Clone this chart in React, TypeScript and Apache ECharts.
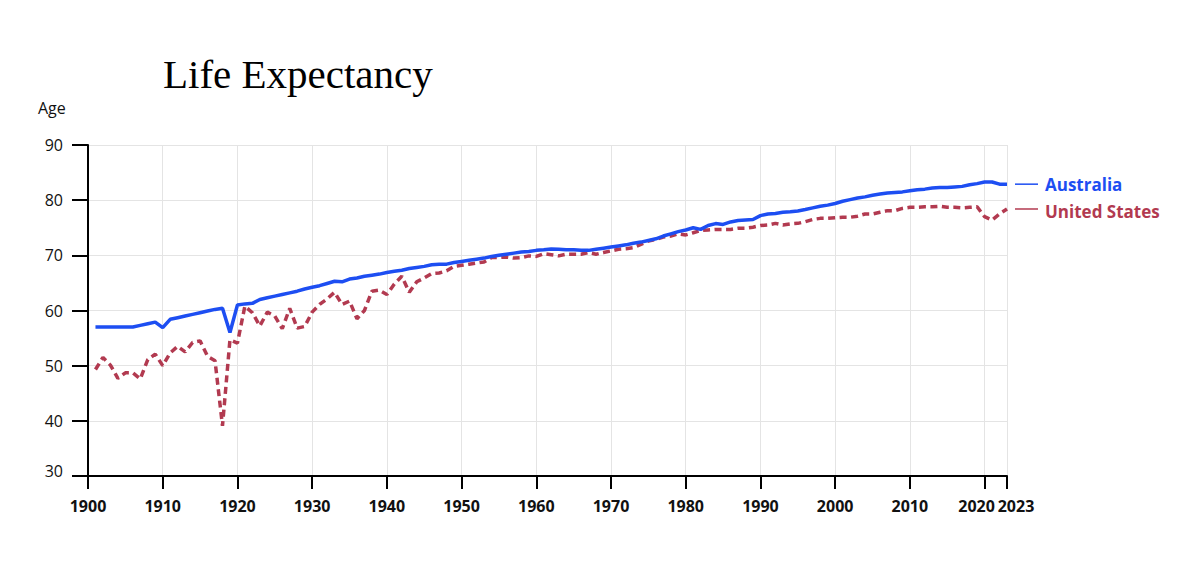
import React, { useEffect, useRef } from "react";
import * as echarts from "echarts";

// Period life expectancy at birth, one value per year starting in FIRST_YEAR
const FIRST_YEAR = 1901;

const australia = [
  57.0, 57.0, 57.0, 57.0, 57.0, 57.0, 57.3, 57.6, 57.9, 56.9,
  58.4, 58.7, 59.0, 59.3, 59.6, 59.9, 60.2, 60.4, 56.0, 61.0,
  61.2, 61.3, 62.0, 62.3, 62.6, 62.9, 63.2, 63.5, 63.9, 64.2,
  64.5, 64.9, 65.3, 65.2, 65.7, 65.9, 66.2, 66.4, 66.6, 66.9,
  67.1, 67.3, 67.6, 67.8, 68.0, 68.3, 68.4, 68.4, 68.7, 68.9,
  69.1, 69.3, 69.5, 69.8, 70.0, 70.2, 70.4, 70.6, 70.7, 70.9,
  71.0, 71.15, 71.1, 71.0, 71.0, 70.9, 70.9, 71.1, 71.3, 71.5,
  71.7, 71.9, 72.2, 72.4, 72.7, 73.0, 73.5, 73.9, 74.3, 74.6,
  75.0, 74.7, 75.4, 75.75, 75.6, 76.05, 76.3, 76.4, 76.5, 77.2,
  77.5, 77.6, 77.8, 77.9, 78.05, 78.3, 78.6, 78.9, 79.1, 79.4,
  79.8, 80.1, 80.4, 80.6, 80.9, 81.1, 81.3, 81.4, 81.5, 81.7,
  81.9, 82.0, 82.2, 82.3, 82.3, 82.4, 82.5, 82.8, 83.0, 83.3,
  83.3, 82.9, 82.9,
];

const unitedStates = [
  49.3, 51.5, 50.1, 47.7, 48.7, 48.7, 47.6, 51.1, 52.1, 50.0,
  52.3, 53.5, 52.5, 54.2, 54.5, 51.7, 50.9, 39.1, 54.7, 54.1,
  60.8, 59.6, 57.2, 59.7, 59.0, 56.7, 60.4, 56.8, 57.1, 59.7,
  61.1, 62.1, 63.3, 61.1, 61.7, 58.5, 60.0, 63.5, 63.7, 62.9,
  64.8, 66.2, 63.3, 65.2, 65.9, 66.7, 66.8, 67.2, 68.0, 68.2,
  68.4, 68.6, 68.8, 69.6, 69.6, 69.7, 69.5, 69.6, 69.9, 69.8,
  70.3, 70.1, 69.9, 70.2, 70.2, 70.2, 70.5, 70.2, 70.5, 70.8,
  71.1, 71.2, 71.4, 72.0, 72.6, 72.9, 73.3, 73.5, 73.9, 73.7,
  74.1, 74.5, 74.6, 74.7, 74.7, 74.7, 74.9, 74.9, 75.1, 75.4,
  75.5, 75.8, 75.5, 75.7, 75.8, 76.1, 76.5, 76.7, 76.7, 76.8,
  76.9, 76.9, 77.1, 77.5, 77.5, 77.8, 78.1, 78.1, 78.5, 78.7,
  78.7, 78.8, 78.8, 78.9, 78.7, 78.7, 78.6, 78.7, 78.8, 77.0,
  76.4, 77.5, 78.4,
];

const seriesNames = ["Australia", "United States"];
const seriesColors = ["#1d4ef2", "#b23a50"];

const X_MIN = 1900;
const X_MAX = 2023;
const Y_MIN = 30;
const Y_MAX = 90;

const SANS = "'Open Sans', 'Noto Sans', sans-serif";

const toPairs = (values: number[]) =>
  values.map((v, i) => [FIRST_YEAR + i, v]);

export default function App() {
  const ref = useRef<HTMLDivElement>(null);

  useEffect(() => {
    if (!ref.current) return;
    const chart = echarts.init(ref.current, null, { renderer: "svg" });

    const xFont = { fontFamily: SANS, fontSize: 16, fontWeight: "bold", color: "#111" };
    const xRich = {
      c: { ...xFont },
      l: { ...xFont, padding: [0, 16, 0, 0] },
      r: { ...xFont, padding: [0, 0, 0, 18] },
    };
    const yFont = { fontFamily: SANS, fontSize: 16, color: "#111" };
    const yRich = {
      c: { ...yFont },
      b: { ...yFont, padding: [0, 0, 10, 0] },
    };

    chart.setOption({
      animation: false,
      backgroundColor: "#fff",
      title: {
        text: "Life Expectancy",
        left: 158,
        top: 48,
        textStyle: {
          fontFamily: "'Liberation Serif', 'Times New Roman', serif",
          fontSize: 41,
          fontWeight: "normal",
          color: "#000",
        },
      },
      grid: { left: 88, right: 173, top: 145, bottom: 106 },
      xAxis: {
        type: "value",
        min: X_MIN,
        max: X_MAX,
        interval: 10,
        axisLine: { lineStyle: { color: "#000", width: 2 } },
        axisTick: { length: 13, lineStyle: { color: "#000", width: 2 } },
        splitLine: { show: true, lineStyle: { color: "#e4e4e4", width: 1 } },
        axisLabel: {
          margin: 22,
          formatter: (v: number) =>
            v === 2020 ? `{l|${v}}` : v === 2023 ? `{r|${v}}` : `{c|${v}}`,
          rich: xRich,
        },
      },
      yAxis: {
        type: "value",
        min: Y_MIN,
        max: Y_MAX,
        interval: 10,
        axisLine: { show: true, lineStyle: { color: "#000", width: 2 } },
        axisTick: { show: true, length: 16, lineStyle: { color: "#000", width: 2 } },
        splitLine: { show: true, lineStyle: { color: "#e4e4e4", width: 1 } },
        axisLabel: {
          margin: 25,
          formatter: (v: number) => (v === Y_MIN ? `{b|${v}}` : `{c|${v}}`),
          rich: yRich,
        },
      },
      series: [
        {
          name: seriesNames[1],
          type: "line",
          data: toPairs(unitedStates),
          showSymbol: false,
          symbol: "none",
          lineStyle: { color: seriesColors[1], width: 3.5, type: [7, 4.5] },
          z: 2,
        },
        {
          name: seriesNames[0],
          type: "line",
          data: toPairs(australia),
          showSymbol: false,
          symbol: "none",
          lineStyle: { color: seriesColors[0], width: 3.5 },
          z: 3,
        },
      ],
    });

    // Direct labels at the right end of each line, placed through the grid's scales
    const ends = [australia, unitedStates].map((vals) =>
      chart.convertToPixel({ gridIndex: 0 }, [X_MAX, vals[vals.length - 1]]) as number[]
    );
    const textOffsets = [0, 3];
    const graphics: any[] = [
      {
        type: "text",
        left: 38,
        top: 100,
        style: { text: "Age", fontFamily: SANS, fontSize: 16, fill: "#111" },
      },
    ];
    ends.forEach((p, i) => {
      graphics.push({
        type: "line",
        shape: { x1: p[0] + 8, y1: p[1], x2: p[0] + 31, y2: p[1] },
        style: { stroke: seriesColors[i], lineWidth: 1.5 },
      });
      graphics.push({
        type: "text",
        x: p[0] + 38,
        y: p[1] + textOffsets[i],
        style: {
          text: seriesNames[i],
          fontFamily: SANS,
          fontSize: 17,
          fontWeight: "bold",
          fill: seriesColors[i],
          textVerticalAlign: "middle",
          verticalAlign: "middle",
        },
      });
    });
    chart.setOption({ graphic: graphics });

    return () => chart.dispose();
  }, []);

  return (
    <div
      ref={ref}
      style={{ position: "fixed", left: 0, top: 0, width: 1180, height: 582 }}
    />
  );
}
